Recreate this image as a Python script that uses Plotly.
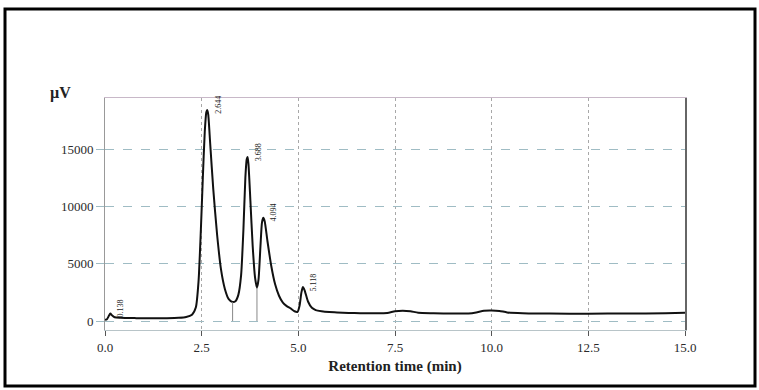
import numpy as np
import plotly.graph_objects as go

# ---- data ----
time_min = [0.0, 0.05, 0.1, 0.138, 0.18, 0.25, 0.4, 0.8, 1.2, 1.6, 1.9, 2.1, 2.25, 2.35,
            2.42, 2.48, 2.53, 2.58, 2.62, 2.644, 2.67, 2.72, 2.8, 2.9, 3.0, 3.1, 3.2, 3.3,
            3.38, 3.45, 3.52, 3.58, 3.63, 3.665, 3.688, 3.71, 3.76, 3.82, 3.88, 3.93, 3.97,
            4.02, 4.06, 4.094, 4.13, 4.2, 4.3, 4.4, 4.5, 4.6, 4.7, 4.8, 4.9, 4.98, 5.03,
            5.08, 5.118, 5.16, 5.25, 5.35, 5.45, 5.6, 5.8, 6.0, 6.3, 6.6, 7.0, 7.3, 7.5,
            7.7, 7.9, 8.1, 8.5, 9.0, 9.4, 9.6, 9.8, 10.0, 10.2, 10.4, 10.8, 11.5, 12.5,
            13.5, 14.5, 15.0]
signal_uv = [100, 150, 450, 650, 500, 330, 280, 250, 240, 250, 280, 350, 550, 1200,
             3500, 8000, 12500, 16500, 18200, 18400, 18000, 15500, 11500, 7500, 4500, 2800, 1900, 1650,
             1750, 2300, 4000, 8000, 12500, 14100, 14300, 13700, 10500, 6500, 3800, 2900, 3600,
             6500, 8600, 9000, 8700, 7000, 4800, 3200, 2200, 1600, 1300, 1100, 850, 800, 1300,
             2500, 2960, 2700, 1700, 1150, 950, 850, 780, 750, 700, 680, 670, 700, 850,
             900, 850, 720, 680, 650, 660, 750, 900, 920, 880, 750, 680, 650, 640,
             650, 680, 720]

peak_times = [0.138, 2.644, 3.688, 4.094, 5.118]
peak_labels = ["0.138", "2.644", "3.688", "4.094", "5.118"]
valley_times = [3.3, 3.93]

x_ticks = [0.0, 2.5, 5.0, 7.5, 10.0, 12.5, 15.0]
x_tick_text = ["0.0", "2.5", "5.0", "7.5", "10.0", "12.5", "15.0"]
y_ticks = [0, 5000, 10000, 15000]
y_tick_text = ["0", "5000", "10000", "15000"]

# ---- layout geometry ----
W, H = 759, 390
ML, MR, MT, MB = 105, 74, 98, 60
PW, PH = W - ML - MR, H - MT - MB


def px_x(p):
    return (p - ML) / PW


def px_y(p):
    return (H - MB - p) / PH


SERIF = "Liberation Serif, Times New Roman, serif"

fig = go.Figure()
fig.add_trace(go.Scatter(x=time_min, y=signal_uv, mode="lines",
                         line=dict(color="#111111", width=2, shape="spline", smoothing=0.6),
                         hoverinfo="skip", showlegend=False))

peak_heights = np.interp(peak_times, time_min, signal_uv)
for t, h, lab in zip(peak_times, peak_heights, peak_labels):
    fig.add_annotation(x=t, y=h, text=lab, showarrow=False, textangle=-90,
                       xanchor="left", yanchor="bottom", xshift=4, yshift=-6,
                       font=dict(family=SERIF, size=8, color="#222222"))

valley_heights = np.interp(valley_times, time_min, signal_uv)
for t, h in zip(valley_times, valley_heights):
    fig.add_shape(type="line", xref="x", yref="y", x0=t, x1=t, y0=0, y1=h,
                  line=dict(color="#888888", width=1))

# outer black frame
fig.add_shape(type="rect", xref="paper", yref="paper",
              x0=px_x(5), x1=px_x(755), y0=px_y(386), y1=px_y(9),
              line=dict(color="black", width=3), layer="below")

# µV label
fig.add_annotation(xref="paper", yref="paper", x=px_x(60), y=px_y(93), text="<b>µV</b>",
                   showarrow=False, xanchor="center", yanchor="middle",
                   font=dict(family=SERIF, size=16, color="#222222"))

fig.update_layout(
    width=W, height=H,
    margin=dict(l=ML, r=MR, t=MT, b=MB),
    paper_bgcolor="white", plot_bgcolor="white",
    xaxis=dict(range=[0, 15], tickvals=x_ticks, ticktext=x_tick_text,
               showgrid=True, gridcolor="#a8a8a8", griddash="dot", gridwidth=1,
               zeroline=False, showline=True, linecolor="#b8c4c8", linewidth=1, mirror=False,
               ticks="outside", ticklen=5, tickcolor="#555555",
               tickfont=dict(family=SERIF, size=13, color="#2a2a2a"),
               title=dict(text="<b>Retention time (min)</b>",
                          font=dict(family=SERIF, size=15, color="#222222"), standoff=6)),
    xaxis2=dict(overlaying="x", side="top", range=[0, 15], showticklabels=False,
                showgrid=False, zeroline=False, showline=True, linecolor="#c8b8c8", linewidth=1),
    yaxis=dict(range=[-785, 19450], tickvals=y_ticks, ticktext=y_tick_text,
               showgrid=True, gridcolor="#9fbcc4", griddash="dash", gridwidth=1,
               zeroline=False, showline=True, linecolor="#999999", linewidth=1,
               ticks="outside", ticklen=8, tickcolor="#9fbcc4",
               tickfont=dict(family=SERIF, size=13, color="#2a2a2a")),
    yaxis2=dict(overlaying="y", side="right", range=[-785, 19450], showticklabels=False,
                showgrid=False, zeroline=False, showline=True, linecolor="#666666", linewidth=1.5),
)
fig.add_trace(go.Scatter(x=[None], y=[None], xaxis="x2", yaxis="y2", showlegend=False,
                         hoverinfo="skip"))

fig.write_html("out.html")
